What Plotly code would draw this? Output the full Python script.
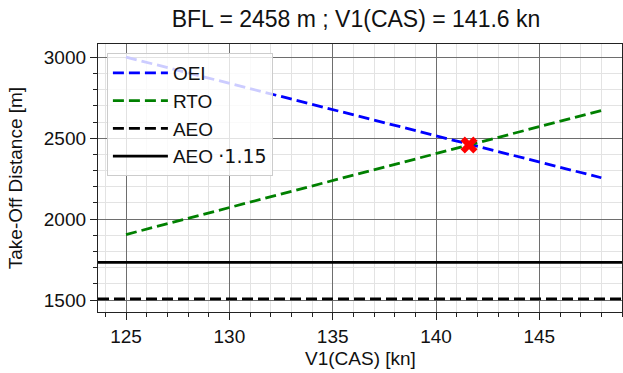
import plotly.graph_objects as go

# Data
v1_oei = [125, 148]
dist_oei = [3002, 2256]
v1_rto = [125, 148]
dist_rto = [1905, 2672]
aeo = 1507
aeo_factor = 1.15
bfl_v1 = [141.6]
bfl_dist = [2458]

FONT = "Liberation Sans, Arial, sans-serif"
TXT = "#111111"
dash = "11px,5px"

fig = go.Figure()
fig.add_trace(go.Scatter(x=v1_oei, y=dist_oei, mode="lines", name="OEI",
                         line=dict(color="#0000ff", width=2.8, dash=dash)))
fig.add_trace(go.Scatter(x=v1_rto, y=dist_rto, mode="lines", name="RTO",
                         line=dict(color="#008000", width=2.8, dash=dash)))
fig.add_trace(go.Scatter(x=[None], y=[None], mode="lines", name="AEO",
                         line=dict(color="black", width=2.8, dash=dash)))
fig.add_trace(go.Scatter(x=[None], y=[None], mode="lines",
                         name="AEO <span style='font-family:DejaVu Sans'>·1.15</span>",
                         line=dict(color="black", width=2.8)))
fig.add_trace(go.Scatter(x=bfl_v1, y=bfl_dist, mode="markers", showlegend=False,
                         marker=dict(symbol="x", size=15, color="#ff0000",
                                     line=dict(width=0))))

fig.add_shape(type="line", xref="x domain", yref="y", x0=0, x1=1, y0=aeo, y1=aeo,
              line=dict(color="black", width=2.8, dash=dash), layer="above")
fig.add_shape(type="line", xref="x domain", yref="y", x0=0, x1=1,
              y0=aeo * aeo_factor, y1=aeo * aeo_factor,
              line=dict(color="black", width=2.8), layer="above")

axis_common = dict(
    showline=True, linecolor="#222222", linewidth=1.3, mirror=True,
    ticks="outside", ticklen=7, tickwidth=1.3, tickcolor="#222222",
    showgrid=True, gridcolor="#6e6e6e", gridwidth=1.1,
    zeroline=False, automargin=False,
    tickfont=dict(family=FONT, size=19, color=TXT),
)

fig.update_xaxes(
    range=[123.645, 149.0], tickvals=[125, 130, 135, 140, 145],
    minor=dict(dtick=1, tick0=125, ticks="outside", ticklen=4, tickwidth=1.1,
               tickcolor="#222222", showgrid=True, gridcolor="#e3e3e3", gridwidth=1),
    **axis_common)
fig.update_yaxes(
    range=[1426, 3083], tickvals=[1500, 2000, 2500, 3000],
    minor=dict(dtick=100, tick0=1500, ticks="outside", ticklen=4, tickwidth=1.1,
               tickcolor="#222222", showgrid=True, gridcolor="#e3e3e3", gridwidth=1),
    **axis_common)

fig.add_annotation(text="V1(CAS) [kn]", xref="paper", yref="paper",
                   x=0.5, y=-0.172, xanchor="center", yanchor="middle", showarrow=False,
                   font=dict(family=FONT, size=19, color=TXT))
fig.add_annotation(text="Take-Off Distance [m]", xref="paper", yref="paper",
                   x=-0.158, y=0.5, xanchor="center", yanchor="middle", showarrow=False,
                   textangle=-90, font=dict(family=FONT, size=19, color=TXT))

fig.update_layout(
    width=623, height=373, autosize=False,
    margin=dict(l=98, r=1, t=44, b=61, autoexpand=False),
    paper_bgcolor="white", plot_bgcolor="white",
    title=dict(text="BFL = 2458 m ; V1(CAS) = 141.6 kn", x=356 / 623, xanchor="center",
               y=1 - 19 / 373, yanchor="middle",
               font=dict(family=FONT, size=23, color=TXT)),
    legend=dict(x=0.017, y=0.966, xanchor="left", yanchor="top",
                bgcolor="rgba(255,255,255,0.8)", bordercolor="#cccccc", borderwidth=1,
                font=dict(family=FONT, size=19, color=TXT),
                itemwidth=55, tracegroupgap=0),
    showlegend=True,
)

fig.write_html("out.html", config={"displayModeBar": False},
               post_script="document.body.style.margin='0';document.body.style.overflow='hidden';")
